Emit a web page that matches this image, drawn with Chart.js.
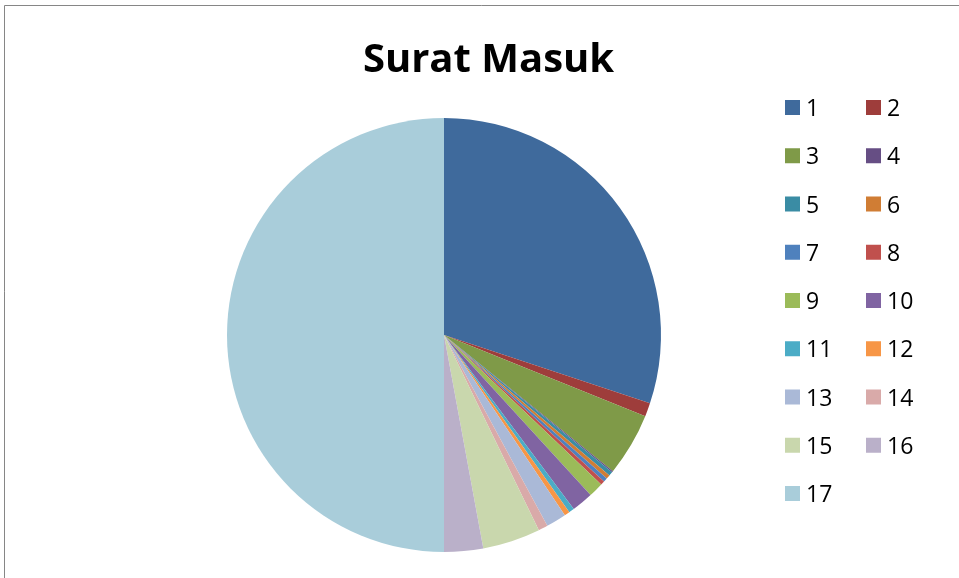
<!DOCTYPE html>
<html>
<head>
<meta charset="utf-8">
<script src="https://cdn.jsdelivr.net/npm/chart.js@4.4.1/dist/chart.umd.min.js"></script>
<style>
    html, body { margin: 0; padding: 0; background: #fff; }
    #wrap { width: 959px; height: 578px; position: relative; }
</style>
</head>
<body>
<div id="wrap"><canvas id="suratChart" width="959" height="578"></canvas></div>
<script>
    'use strict';

    // data
    var chartTitle = 'Surat Masuk';
    var categories = ['1', '2', '3', '4', '5', '6', '7', '8', '9', '10', '11', '12', '13', '14', '15', '16', '17'];
    var suratMasuk = [301, 10, 47, 1, 3, 3, 3, 3, 11, 16, 4, 4, 15, 7, 43, 29, 500];
    var sliceColors = [
        '#3F6A9C', '#9E3D3B', '#7F9A48', '#664E84', '#3A8CA4', '#D07D34',
        '#4F81BD', '#C0504D', '#9BBB59', '#8064A2', '#4BACC6', '#F79646',
        '#AAB9D7', '#D9AAA9', '#C9D7AD', '#BAB0C9', '#A9CDDA'
    ];

    // frame, title and a legend laid out two items per row, like the Excel original
    var excelLook = {
        id: 'excelLook',
        beforeDraw: function (chart) {
            var ctx = chart.ctx;
            ctx.save();
            ctx.strokeStyle = '#868686';
            ctx.lineWidth = 1;
            ctx.beginPath();
            ctx.moveTo(4.5, 578);
            ctx.lineTo(4.5, 5.5);
            ctx.lineTo(959, 5.5);
            ctx.stroke();
            ctx.restore();
        },
        afterDraw: function (chart) {
            var ctx = chart.ctx;
            var labels = chart.data.labels;
            var colors = chart.data.datasets[0].backgroundColor;
            var colX = [785, 866];
            var rowY = 107.5, rowStep = 48.25, box = 15;

            ctx.save();
            // title
            ctx.font = 'bold 40px "Open Sans"';
            ctx.fillStyle = '#000';
            ctx.textAlign = 'center';
            ctx.textBaseline = 'alphabetic';
            ctx.fillText(chartTitle, 488.5, 72);

            // legend
            ctx.font = '23px "Open Sans"';
            ctx.textAlign = 'left';
            for (var i = 0; i < labels.length; i++) {
                var x = colX[i % 2];
                var y = rowY + Math.floor(i / 2) * rowStep;
                ctx.fillStyle = colors[i];
                ctx.fillRect(x, y - box / 2, box, box);
                ctx.fillStyle = '#000';
                ctx.fillText(labels[i], x + 21, y + 8.5);
            }
            ctx.restore();
        }
    };

    var ctx = document.getElementById('suratChart').getContext('2d');
    var chart = new Chart(ctx, {
        type: 'pie',
        data: {
            labels: categories,
            datasets: [{
                label: chartTitle,
                data: suratMasuk,
                backgroundColor: sliceColors,
                borderWidth: 0
            }]
        },
        options: {
            responsive: false,
            animation: false,
            layout: {
                padding: { left: 227, right: 298, top: 118, bottom: 26 }
            },
            plugins: {
                title: { display: false },
                legend: { display: false },
                tooltip: { enabled: false }
            }
        },
        plugins: [excelLook]
    });
</script>
</body>
</html>
